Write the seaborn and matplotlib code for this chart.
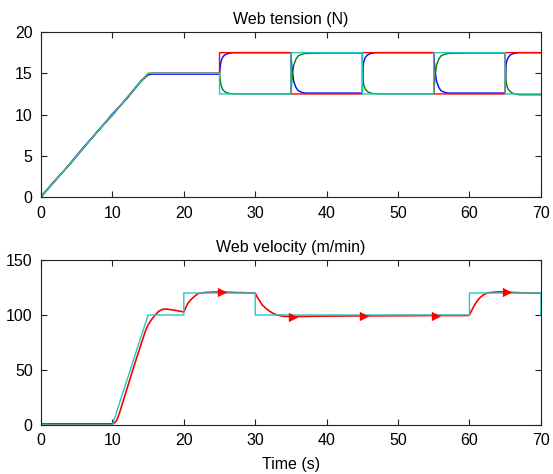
import numpy as np
import pandas as pd
import seaborn as sns
import matplotlib
matplotlib.use("Agg")
import matplotlib.pyplot as plt

# ---- web tension (N) ----
t_ref = [0, 15, 25, 25, 35, 35, 45, 45, 55, 55, 65, 65, 70]
ten_red = [0, 15, 15, 17.5, 17.5, 12.5, 12.5, 17.5, 17.5, 12.5, 12.5, 17.5, 17.5]
ten_cyan = [0, 15, 15, 12.5, 12.5, 17.5, 17.5, 12.5, 12.5, 17.5, 17.5, 12.5, 12.5]

t_resp = [0, 2, 4, 6, 8, 10, 12, 14, 15, 15.5, 20, 25,
          25.1, 25.2, 25.4, 25.7, 26, 26.5, 27, 30, 35,
          35.1, 35.2, 35.4, 35.7, 36, 36.5, 37, 40, 45,
          45.1, 45.2, 45.4, 45.7, 46, 46.5, 47, 50, 55,
          55.1, 55.2, 55.4, 55.7, 56, 56.5, 57, 60, 65,
          65.1, 65.2, 65.4, 65.7, 66, 66.5, 67, 70]
ten_blue = [0.1, 2.0, 4.0, 6.1, 8.0, 10.1, 11.9, 14.0, 14.8, 14.9, 14.9, 14.9,
            15.8, 16.4, 16.9, 17.2, 17.35, 17.45, 17.5, 17.5, 17.5,
            16.2, 15.2, 14.0, 13.3, 12.9, 12.7, 12.6, 12.6, 12.6,
            15.8, 16.4, 16.9, 17.2, 17.35, 17.45, 17.5, 17.5, 17.5,
            16.2, 15.2, 14.0, 13.3, 12.9, 12.7, 12.6, 12.6, 12.6,
            15.8, 16.4, 16.9, 17.2, 17.35, 17.45, 17.5, 17.5]
ten_green = [0.0, 2.1, 3.9, 6.0, 8.1, 9.9, 12.0, 14.1, 14.9, 15.0, 15.0, 15.0,
             14.2, 13.6, 13.1, 12.8, 12.65, 12.55, 12.5, 12.5, 12.5,
             13.8, 14.8, 16.0, 16.7, 17.1, 17.3, 17.4, 17.45, 17.45,
             14.2, 13.6, 13.1, 12.8, 12.65, 12.55, 12.5, 12.5, 12.5,
             13.8, 14.8, 16.0, 16.7, 17.1, 17.3, 17.4, 17.45, 17.45,
             14.2, 13.6, 13.1, 12.8, 12.6, 12.5, 12.4, 12.4]

# ---- web velocity (m/min) ----
t_vref = [0, 10, 15, 20, 20, 30, 30, 60, 60, 70, 70]
vel_cyan = [0, 0, 100, 100, 120, 120, 100, 100, 120, 120, 100]

t_vel = [0, 10, 10.3, 10.6, 11, 12, 13, 14, 14.6, 15, 15.5, 16, 16.5, 17, 17.5, 18, 19,
         19.8, 20, 20.3, 20.6, 21, 21.5, 22, 23, 25, 27, 29.8,
         30, 30.3, 30.7, 31, 31.5, 32, 32.5, 33, 34, 35, 40, 45, 50, 55, 59.8,
         60, 60.3, 60.7, 61, 61.5, 62, 62.5, 63, 64, 65, 66, 68, 70]
vel_red = [1, 1, 2, 4, 11, 32, 53, 73, 85, 91, 96, 100, 103.5, 105, 105.5, 105, 104,
           103, 103, 107, 111, 114, 117, 119.5, 120.5, 121, 120.5, 120,
           119.8, 116, 112, 109, 106, 103.5, 101.5, 100, 98.8, 98.5, 99, 99.2, 99.3, 99.5, 99.5,
           100, 104, 109, 112, 116, 118.5, 120, 120.5, 121, 121, 120.5, 120, 120]

mark_t = [25.3, 35.3, 45.3, 55.3, 65.3]
mark_v = [121, 98.5, 99.5, 99.5, 121]

sns.set_style("ticks")
plt.rcParams['font.family'] = ['Liberation Sans', 'DejaVu Sans']
plt.rcParams['text.color'] = 'black'
plt.rcParams['xtick.labelcolor'] = 'black'
plt.rcParams['ytick.labelcolor'] = 'black'
plt.rcParams['axes.labelcolor'] = 'black'

fig = plt.figure(figsize=(5.53, 4.74), dpi=100)
ax1 = fig.add_axes([0.0741, 0.584, 0.904, 0.3485])
ax2 = fig.add_axes([0.0741, 0.1034, 0.904, 0.3481])

blue, green, red, cyan = '#0000ff', '#008000', '#ff0000', '#20c8c8'

sns.lineplot(x=t_resp, y=ten_blue, ax=ax1, color=blue, lw=1, estimator=None, sort=False)
sns.lineplot(x=t_resp, y=ten_green, ax=ax1, color=green, lw=1, estimator=None, sort=False)
sns.lineplot(x=t_ref, y=ten_red, ax=ax1, color=red, lw=1, estimator=None, sort=False)
sns.lineplot(x=t_ref, y=ten_cyan, ax=ax1, color=cyan, lw=1, estimator=None, sort=False)

sns.lineplot(x=t_vel, y=vel_red, ax=ax2, color=red, lw=1.2, estimator=None, sort=False)
sns.lineplot(x=t_vref, y=vel_cyan, ax=ax2, color=cyan, lw=1, estimator=None, sort=False)
sns.scatterplot(x=mark_t, y=mark_v, ax=ax2, color=red, marker='>', s=45, linewidth=0, zorder=5)

for ax in (ax1, ax2):
    ax.set_xlim(0, 70)
    ax.set_xticks(range(0, 71, 10))
    ax.tick_params(direction='in', top=True, right=True, length=4, labelsize=11.5,
                   color='#222222', pad=6)
    for s in ax.spines.values():
        s.set_visible(True)
        s.set_color('#222222')
        s.set_linewidth(0.8)

ax1.set_ylim(0, 20)
ax1.set_yticks([0, 5, 10, 15, 20])
ax1.set_title("Web tension (N)", fontsize=11.5, pad=6)
ax2.set_ylim(0, 150)
ax2.set_yticks([0, 50, 100, 150])
ax2.set_title("Web velocity (m/min)", fontsize=11.5, pad=6)
ax2.set_xlabel("Time (s)", fontsize=11.5, labelpad=6)

fig.savefig("out.png", dpi=100)
